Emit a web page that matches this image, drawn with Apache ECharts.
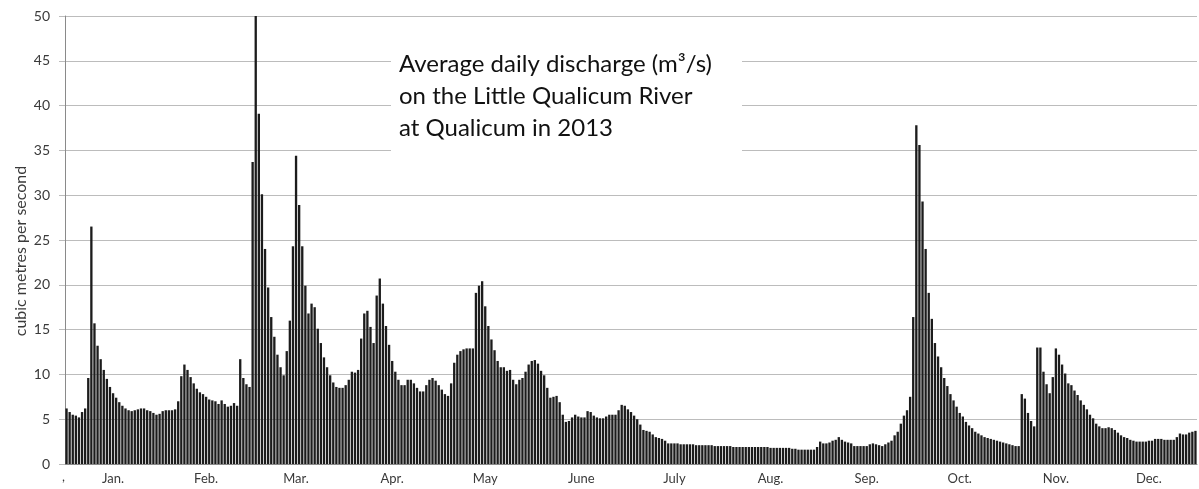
<!DOCTYPE html>
<html>
<head>
<meta charset="utf-8">
<title>Little Qualicum River discharge 2013</title>
<script src="https://cdn.jsdelivr.net/npm/echarts@6/dist/echarts.min.js"></script>
<style>
  html, body { margin: 0; padding: 0; background: #fff; }
  #chart { width: 1199px; height: 489px; }
</style>
</head>
<body>
<div id="chart"></div>
<script>
// month labels and lengths (2013)
const monthLabels = ["Jan.", "Feb.", "Mar.", "Apr.", "May", "June", "July", "Aug.", "Sep.", "Oct.", "Nov.", "Dec."];
const monthDays = [31, 28, 31, 30, 31, 30, 31, 31, 30, 31, 30, 31];

// average daily discharge, m3/s
const jan = [6.2, 5.8, 5.5, 5.4, 5.2, 5.8, 6.2, 9.6, 26.5, 15.7, 13.2, 11.7, 10.5, 9.5, 8.6, 7.9, 7.4, 6.9, 6.5, 6.2, 6.0, 5.9, 6.0, 6.1, 6.2, 6.2, 6.0, 5.9, 5.7, 5.5, 5.6];
const feb = [5.9, 6.0, 6.0, 6.0, 6.1, 7.0, 9.8, 11.1, 10.5, 9.7, 9.0, 8.4, 8.0, 7.8, 7.5, 7.2, 7.1, 7.0, 6.7, 7.1, 6.7, 6.4, 6.5, 6.8, 6.5, 11.7, 9.6, 8.9];
const mar = [8.6, 33.7, 50, 39.1, 30.1, 24.0, 19.7, 16.4, 14.2, 12.2, 10.8, 9.9, 12.6, 16.0, 24.3, 34.4, 28.9, 24.3, 19.9, 16.8, 17.9, 17.5, 15.1, 13.5, 11.9, 10.8, 9.9, 9.1, 8.6, 8.5, 8.5];
const apr = [8.8, 9.4, 10.3, 10.2, 10.5, 14.0, 16.8, 17.1, 15.3, 13.5, 18.8, 20.7, 17.9, 15.4, 13.3, 11.5, 10.3, 9.4, 8.8, 8.8, 9.4, 9.4, 9.0, 8.5, 8.1, 8.1, 8.8, 9.4, 9.6, 9.3];
const may = [8.8, 8.3, 7.8, 7.6, 9.0, 11.3, 12.2, 12.6, 12.8, 12.9, 12.9, 12.9, 19.1, 19.9, 20.4, 17.6, 15.4, 13.9, 12.7, 11.5, 10.8, 10.8, 10.4, 10.5, 9.4, 8.9, 9.4, 9.6, 10.3, 11.1, 11.5];
const jun = [11.6, 11.2, 10.4, 9.9, 8.5, 7.4, 7.5, 7.6, 6.9, 5.5, 4.7, 4.8, 5.2, 5.5, 5.3, 5.2, 5.2, 5.9, 5.8, 5.4, 5.2, 5.1, 5.1, 5.3, 5.5, 5.5, 5.5, 6.0, 6.6, 6.5];
const jul = [6.1, 5.8, 5.4, 5.0, 4.4, 3.8, 3.7, 3.6, 3.3, 3.0, 2.9, 2.8, 2.6, 2.3, 2.3, 2.3, 2.3, 2.2, 2.2, 2.2, 2.2, 2.2, 2.1, 2.1, 2.1, 2.1, 2.1, 2.1, 2.0, 2.0, 2.0];
const aug = [2.0, 2.0, 2.0, 1.9, 1.9, 1.9, 1.9, 1.9, 1.9, 1.9, 1.9, 1.9, 1.9, 1.9, 1.9, 1.8, 1.8, 1.8, 1.8, 1.8, 1.8, 1.8, 1.7, 1.7, 1.6, 1.6, 1.6, 1.6, 1.6, 1.6, 1.9];
const sep = [2.5, 2.3, 2.3, 2.4, 2.6, 2.7, 3.0, 2.7, 2.5, 2.4, 2.3, 2.0, 2.0, 2.0, 2.0, 2.0, 2.2, 2.3, 2.2, 2.1, 2.0, 2.2, 2.4, 2.6, 3.2, 3.6, 4.5, 5.4, 6.0, 7.5];
const oct = [16.4, 37.8, 35.6, 29.3, 24.0, 19.1, 16.2, 13.5, 12.0, 10.8, 9.6, 8.7, 7.8, 7.1, 6.4, 5.7, 5.3, 4.7, 4.3, 4.0, 3.6, 3.4, 3.2, 3.0, 2.9, 2.8, 2.7, 2.6, 2.5, 2.4, 2.3];
const nov = [2.2, 2.1, 2.0, 2.0, 7.8, 7.3, 5.7, 4.8, 4.2, 13.0, 13.0, 10.3, 8.9, 7.9, 9.7, 12.9, 12.2, 11.1, 10.1, 9.0, 8.8, 8.2, 7.7, 7.1, 6.6, 6.1, 5.5, 5.1, 4.5, 4.2];
const dec = [4.0, 4.0, 4.1, 4.0, 3.8, 3.5, 3.2, 3.0, 2.9, 2.7, 2.6, 2.5, 2.5, 2.5, 2.5, 2.6, 2.6, 2.8, 2.8, 2.8, 2.7, 2.7, 2.7, 2.7, 3.0, 3.4, 3.3, 3.3, 3.5, 3.6, 3.7];

const discharge = [].concat(jan, feb, mar, apr, may, jun, jul, aug, sep, oct, nov, dec);

// one category per day, ticks at month starts, label mid-month
const days = [];
const monthStart = new Set();
const labelAt = {};
let idx = 0;
monthDays.forEach((len, m) => {
  monthStart.add(idx);
  labelAt[idx + Math.floor(len / 2)] = monthLabels[m];
  for (let d = 1; d <= len; d++) {
    days.push(m + 1 + "/" + d);
  }
  idx += len;
});

const chart = echarts.init(document.getElementById("chart"), null, { renderer: "canvas" });

const font = "Lato";
const textColor = "#3a3a3a";
const gridColor = "#bcbcbc";
const axisColor = "#8a8a8a";

chart.setOption({
  animation: false,
  backgroundColor: "#fff",
  grid: {
    left: 65,
    right: 2,
    top: 16,
    bottom: 25,
  },
  xAxis: {
    type: "category",
    data: days,
    boundaryGap: true,
    axisLine: { lineStyle: { color: axisColor, width: 1 } },
    axisTick: {
      length: 6,
      interval: (i) => monthStart.has(i),
      lineStyle: { color: axisColor },
    },
    axisLabel: {
      interval: (i) => labelAt[i] !== undefined,
      formatter: (v, i) => labelAt[i] || "",
      fontFamily: font,
      fontSize: 13,
      color: textColor,
      margin: 8,
    },
    splitLine: { show: false },
  },
  yAxis: {
    type: "value",
    min: 0,
    max: 50,
    interval: 5,
    axisLine: { show: true, lineStyle: { color: axisColor } },
    axisTick: { show: true, length: 6, lineStyle: { color: gridColor } },
    axisLabel: {
      fontFamily: font,
      fontSize: 14,
      color: textColor,
      margin: 15,
    },
    splitLine: { lineStyle: { color: gridColor, width: 1 } },
  },
  series: [
    {
      type: "bar",
      data: discharge,
      barCategoryGap: "25%",
      itemStyle: { color: "#1c1c1c" },
    },
  ],
  graphic: [
    {
      type: "rect",
      z: 10,
      shape: { x: 391, y: 22, width: 351, height: 138 },
      style: { fill: "#fff" },
    },
    {
      type: "text",
      z: 11,
      x: 399,
      y: 48,
      style: {
        text: "Average daily discharge (m³/s)\non the Little Qualicum River\nat Qualicum in 2013",
        font: "24px Lato",
        lineHeight: 32,
        fill: "#111",
      },
    },
    {
      type: "text",
      z: 11,
      x: 21,
      y: 251,
      rotation: Math.PI / 2,
      style: {
        text: "cubic metres per second",
        font: "16px Lato",
        fill: textColor,
        align: "center",
        verticalAlign: "middle",
      },
    },
    {
      type: "text",
      z: 11,
      x: 62,
      y: 470,
      style: { text: ",", font: "13px Lato", fill: textColor },
    },
  ],
});
</script>
</body>
</html>
